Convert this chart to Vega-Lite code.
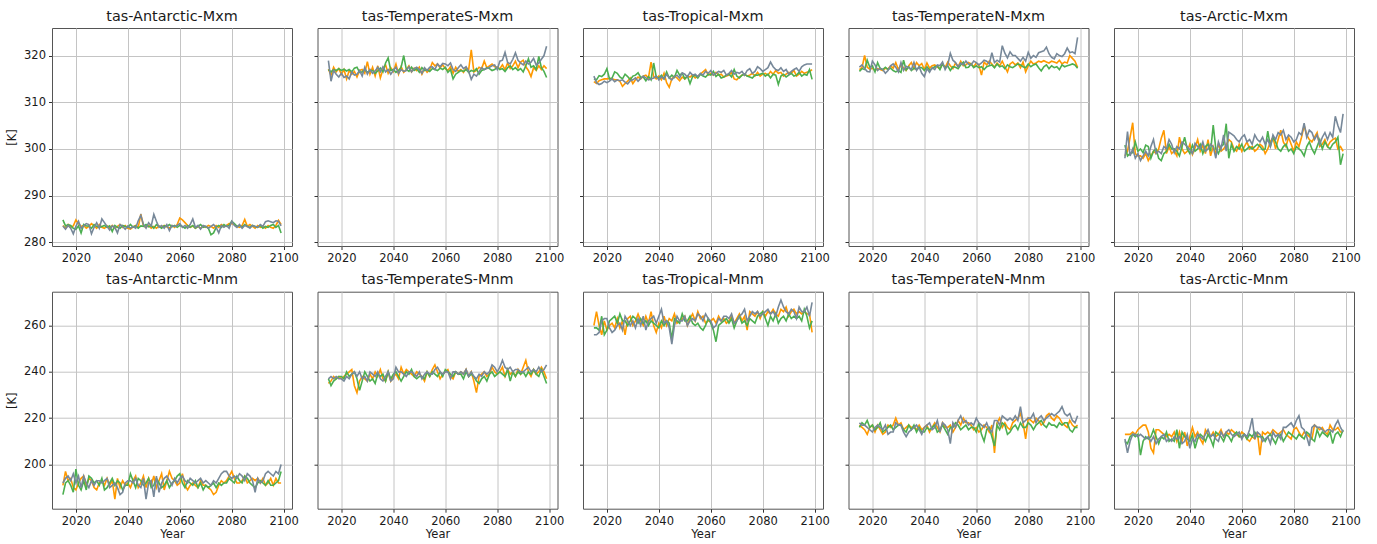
{
"$schema":"https://vega.github.io/schema/vega-lite/v6.json",
"background":"white",
"padding":{"left":6,"top":8,"right":5,"bottom":5},
"bounds":"flush",
"columns":5,
"spacing":{"row":45.7,"column":25.5},
"resolve":{"scale":{"color":"independent"}},
"config":{
 "font":"DejaVu Sans",
 "view":{"stroke":"#555","strokeWidth":1},
 "axis":{"domain":false,"gridColor":"#c4c4c4","gridWidth":1,"tickColor":"#333","tickSize":3.5,"labelFontSize":11.5,"labelColor":"#1a1a1a","labelPadding":3,"titleFontSize":11.5,"titleFontWeight":"normal","titleColor":"#1a1a1a"},
 "axisY":{"titlePadding":6},
 "axisX":{"titlePadding":2},
 "title":{"fontSize":14.4,"fontWeight":"normal","color":"#1a1a1a","offset":4,"anchor":"middle"}
},
"data":{"values":[
{"x":2015,"ao":283.6,"ag":284.8,"as":283.5,"bo":317.1,"bg":317.0,"bs":318.9,"co":314.4,"cg":315.0,"cs":315.6,"do":317.0,"dg":316.6,"ds":317.5,"eo":298.5,"eg":300.8,"es":298.0,"fo":191,"fg":187,"fs":192,"go":235,"gg":237,"gs":237,"ho":260,"hg":259,"hs":256,"io":217,"ig":216,"is":218,"jo":213,"jg":210,"js":211},
{"x":2016,"ao":283.0,"ag":283.5,"as":282.8,"bo":315.8,"bg":316.5,"bs":314.5,"co":314.0,"cg":314.8,"cs":314.2,"do":317.4,"dg":317.2,"ds":318.0,"eo":299.5,"eg":298.5,"es":303.7,"fo":197,"fg":192,"fs":194,"go":236,"gg":234,"gs":238,"ho":266,"hg":259,"hs":256,"io":216,"ig":218,"is":217,"jo":213,"jg":209,"js":205},
{"x":2017,"ao":283.8,"ag":283.8,"as":283.6,"bo":317.5,"bg":317.0,"bs":316.8,"co":314.6,"cg":315.7,"cs":313.8,"do":320.0,"dg":317.0,"ds":317.2,"eo":302.5,"eg":299.0,"es":298.5,"fo":193,"fg":193,"fs":195,"go":238,"gg":236,"gs":237,"ho":260,"hg":258,"hs":257,"io":215,"ig":217,"is":217,"jo":213,"jg":212,"js":210},
{"x":2018,"ao":283.2,"ag":283.6,"as":283.0,"bo":316.5,"bg":316.8,"bs":316.0,"co":314.8,"cg":315.5,"cs":314.0,"do":317.5,"dg":319.0,"ds":316.6,"eo":305.6,"eg":299.2,"es":300.0,"fo":194,"fg":191,"fs":193,"go":237,"gg":237,"gs":238,"ho":256,"hg":264,"hs":262,"io":213,"ig":219,"is":216,"jo":214,"jg":213,"js":213},
{"x":2019,"ao":283.5,"ag":283.0,"as":281.8,"bo":317.2,"bg":317.2,"bs":315.4,"co":315.0,"cg":316.0,"cs":314.5,"do":317.1,"dg":317.5,"ds":316.5,"eo":299.0,"eg":301.5,"es":298.0,"fo":190,"fg":188,"fs":196,"go":238,"gg":238,"gs":237,"ho":262,"hg":256,"hs":263,"io":216,"ig":216,"is":215,"jo":213,"jg":212,"js":213},
{"x":2020,"ao":284.8,"ag":282.8,"as":283.4,"bo":316.0,"bg":316.8,"bs":316.2,"co":315.0,"cg":317.2,"cs":314.2,"do":317.3,"dg":317.8,"ds":318.8,"eo":298.5,"eg":299.5,"es":299.0,"fo":189,"fg":198,"fs":192,"go":237,"gg":238,"gs":237,"ho":258,"hg":258,"hs":263,"io":217,"ig":217,"is":214,"jo":215,"jg":213,"js":212},
{"x":2021,"ao":284.0,"ag":283.5,"as":284.5,"bo":317.0,"bg":317.1,"bs":315.3,"co":315.1,"cg":315.0,"cs":314.5,"do":316.8,"dg":316.5,"ds":318.0,"eo":298.5,"eg":300.0,"es":297.5,"fo":192,"fg":191,"fs":195,"go":238,"gg":237,"gs":236,"ho":260,"hg":262,"hs":259,"io":214,"ig":215,"is":216,"jo":216,"jg":204,"js":213},
{"x":2022,"ao":283.4,"ag":282.0,"as":283.0,"bo":315.0,"bg":316.7,"bs":315.6,"co":315.0,"cg":315.2,"cs":315.0,"do":317.2,"dg":318.5,"ds":316.8,"eo":298.0,"eg":299.2,"es":298.5,"fo":194,"fg":189,"fs":190,"go":239,"gg":240,"gs":238,"ho":261,"hg":263,"hs":257,"io":217,"ig":216,"is":217,"jo":217,"jg":210,"js":212},
{"x":2023,"ao":283.6,"ag":283.8,"as":283.5,"bo":316.8,"bg":317.0,"bs":315.0,"co":314.8,"cg":316.5,"cs":314.4,"do":317.0,"dg":317.2,"ds":317.3,"eo":299.0,"eg":300.8,"es":299.5,"fo":195,"fg":193,"fs":195,"go":240,"gg":238,"gs":237,"ho":259,"hg":264,"hs":258,"io":215,"ig":218,"is":216,"jo":217,"jg":212,"js":211},
{"x":2024,"ao":283.0,"ag":283.5,"as":284.0,"bo":316.0,"bg":316.5,"bs":316.5,"co":314.8,"cg":316.2,"cs":314.8,"do":316.8,"dg":317.0,"ds":317.0,"eo":297.5,"eg":300.5,"es":298.5,"fo":191,"fg":189,"fs":192,"go":241,"gg":239,"gs":239,"ho":263,"hg":261,"hs":260,"io":213,"ig":214,"is":215,"jo":214,"jg":211,"js":212},
{"x":2025,"ao":283.4,"ag":283.5,"as":283.8,"bo":316.6,"bg":317.3,"bs":315.8,"co":314.5,"cg":315.4,"cs":314.6,"do":317.3,"dg":317.5,"ds":316.2,"eo":298.5,"eg":298.0,"es":300.5,"fo":194,"fg":195,"fs":190,"go":234,"gg":240,"gs":240,"ho":259,"hg":265,"hs":261,"io":214,"ig":215,"is":217,"jo":207,"jg":212,"js":210},
{"x":2026,"ao":284.0,"ag":283.0,"as":281.8,"bo":315.4,"bg":317.5,"bs":316.0,"co":313.4,"cg":315.0,"cs":314.8,"do":317.1,"dg":317.0,"ds":316.8,"eo":299.5,"eg":299.5,"es":302.0,"fo":193,"fg":194,"fs":193,"go":231,"gg":237,"gs":238,"ho":262,"hg":262,"hs":258,"io":217,"ig":216,"is":213,"jo":205,"jg":215,"js":212},
{"x":2027,"ao":283.5,"ag":283.8,"as":283.2,"bo":316.8,"bg":316.4,"bs":316.8,"co":314.0,"cg":316.0,"cs":314.3,"do":317.8,"dg":317.3,"ds":317.8,"eo":299.0,"eg":300.0,"es":299.0,"fo":190,"fg":192,"fs":191,"go":236,"gg":232,"gs":240,"ho":256,"hg":262,"hs":264,"io":216,"ig":217,"is":214,"jo":215,"jg":212,"js":209},
{"x":2028,"ao":283.0,"ag":283.4,"as":284.2,"bo":317.0,"bg":316.5,"bs":315.6,"co":314.5,"cg":315.5,"cs":313.9,"do":317.3,"dg":316.8,"ds":318.2,"eo":300.0,"eg":298.0,"es":299.5,"fo":189,"fg":193,"fs":193,"go":238,"gg":236,"gs":237,"ho":263,"hg":260,"hs":262,"io":217,"ig":215,"is":214,"jo":215,"jg":209,"js":211},
{"x":2029,"ao":283.8,"ag":283.2,"as":283.0,"bo":316.2,"bg":317.0,"bs":317.5,"co":315.2,"cg":314.8,"cs":314.6,"do":318.5,"dg":316.5,"ds":317.5,"eo":302.3,"eg":297.5,"es":299.0,"fo":192,"fg":191,"fs":193,"go":237,"gg":240,"gs":238,"ho":264,"hg":262,"hs":260,"io":220,"ig":216,"is":218,"jo":214,"jg":212,"js":212},
{"x":2030,"ao":283.2,"ag":283.4,"as":285.0,"bo":318.7,"bg":316.4,"bs":316.0,"co":314.0,"cg":315.6,"cs":314.8,"do":317.0,"dg":316.8,"ds":316.5,"eo":304.0,"eg":299.0,"es":300.5,"fo":193,"fg":194,"fs":192,"go":236,"gg":238,"gs":236,"ho":260,"hg":264,"hs":262,"io":217,"ig":217,"is":217,"jo":213,"jg":211,"js":213},
{"x":2031,"ao":283.0,"ag":283.6,"as":284.2,"bo":316.0,"bg":316.8,"bs":317.0,"co":314.8,"cg":315.8,"cs":315.2,"do":318.0,"dg":316.4,"ds":318.5,"eo":299.0,"eg":299.5,"es":300.0,"fo":191,"fg":189,"fs":193,"go":239,"gg":236,"gs":240,"ho":262,"hg":263,"hs":259,"io":218,"ig":217,"is":217,"jo":212,"jg":214,"js":210},
{"x":2032,"ao":283.5,"ag":283.2,"as":283.4,"bo":317.5,"bg":316.8,"bs":316.2,"co":315.4,"cg":316.3,"cs":314.5,"do":317.4,"dg":319.0,"ds":316.8,"eo":300.5,"eg":301.0,"es":302.0,"fo":194,"fg":190,"fs":194,"go":237,"gg":237,"gs":239,"ho":265,"hg":261,"hs":263,"io":215,"ig":215,"is":214,"jo":213,"jg":210,"js":211},
{"x":2033,"ao":283.0,"ag":283.5,"as":282.6,"bo":315.6,"bg":316.2,"bs":316.7,"co":315.0,"cg":315.3,"cs":315.1,"do":316.8,"dg":316.9,"ds":317.7,"eo":299.0,"eg":300.0,"es":301.0,"fo":191,"fg":192,"fs":190,"go":240,"gg":235,"gs":238,"ho":262,"hg":263,"hs":260,"io":216,"ig":214,"is":212,"jo":212,"jg":211,"js":210},
{"x":2034,"ao":283.6,"ag":282.3,"as":283.5,"bo":317.8,"bg":316.7,"bs":317.5,"co":315.6,"cg":315.4,"cs":315.6,"do":317.8,"dg":317.6,"ds":317.4,"eo":299.6,"eg":300.0,"es":299.2,"fo":193,"fg":194,"fs":191,"go":238,"gg":239,"gs":240,"ho":260,"hg":261,"hs":264,"io":217,"ig":217,"is":214,"jo":214,"jg":210,"js":212},
{"x":2035,"ao":283.0,"ag":283.6,"as":283.2,"bo":315.2,"bg":317.3,"bs":316.5,"co":315.8,"cg":314.6,"cs":315.2,"do":318.5,"dg":316.8,"ds":317.0,"eo":298.5,"eg":299.5,"es":300.5,"fo":185,"fg":191,"fs":192,"go":241,"gg":238,"gs":237,"ho":264,"hg":262,"hs":258,"io":216,"ig":215,"is":215,"jo":210,"jg":215,"js":211},
{"x":2036,"ao":283.4,"ag":283.2,"as":282.0,"bo":317.0,"bg":316.5,"bs":317.6,"co":315.2,"cg":315.5,"cs":314.8,"do":317.2,"dg":317.3,"ds":318.5,"eo":302.5,"eg":298.5,"es":300.0,"fo":194,"fg":193,"fs":190,"go":237,"gg":239,"gs":236,"ho":261,"hg":260,"hs":262,"io":216,"ig":217,"is":216,"jo":214,"jg":207,"js":212},
{"x":2037,"ao":283.8,"ag":283.0,"as":283.8,"bo":318.0,"bg":318.4,"bs":316.5,"co":318.6,"cg":314.8,"cs":315.0,"do":318.5,"dg":317.0,"ds":316.8,"eo":300.0,"eg":300.5,"es":301.5,"fo":190,"fg":192,"fs":187,"go":236,"gg":236,"gs":238,"ho":266,"hg":262,"hs":263,"io":215,"ig":214,"is":217,"jo":210,"jg":214,"js":209},
{"x":2038,"ao":283.2,"ag":283.6,"as":283.4,"bo":316.2,"bg":319.5,"bs":317.0,"co":315.5,"cg":318.4,"cs":315.2,"do":317.8,"dg":317.5,"ds":317.6,"eo":299.0,"eg":302.5,"es":301.0,"fo":193,"fg":189,"fs":188,"go":240,"gg":240,"gs":240,"ho":260,"hg":261,"hs":264,"io":217,"ig":216,"is":215,"jo":214,"jg":212,"js":210},
{"x":2039,"ao":283.6,"ag":283.4,"as":282.8,"bo":317.4,"bg":316.8,"bs":316.0,"co":315.0,"cg":315.4,"cs":315.6,"do":318.3,"dg":317.4,"ds":316.2,"eo":299.5,"eg":300.0,"es":300.5,"fo":191,"fg":191,"fs":192,"go":236,"gg":237,"gs":236,"ho":257,"hg":260,"hs":261,"io":215,"ig":214,"is":213,"jo":208,"jg":211,"js":213},
{"x":2040,"ao":283.0,"ag":283.2,"as":283.5,"bo":316.6,"bg":317.0,"bs":316.8,"co":315.6,"cg":315.2,"cs":314.8,"do":317.0,"dg":316.8,"ds":315.5,"eo":301.0,"eg":299.0,"es":299.8,"fo":192,"fg":191,"fs":193,"go":238,"gg":239,"gs":237,"ho":261,"hg":259,"hs":264,"io":216,"ig":214,"is":216,"jo":212,"jg":210,"js":207},
{"x":2041,"ao":282.8,"ag":283.8,"as":283.0,"bo":318.2,"bg":316.4,"bs":317.5,"co":314.8,"cg":315.8,"cs":315.5,"do":318.4,"dg":317.6,"ds":317.2,"eo":298.8,"eg":300.8,"es":299.0,"fo":190,"fg":196,"fs":193,"go":239,"gg":240,"gs":242,"ho":259,"hg":262,"hs":267,"io":217,"ig":216,"is":217,"jo":216,"jg":213,"js":211},
{"x":2042,"ao":283.3,"ag":283.2,"as":283.4,"bo":316.0,"bg":316.8,"bs":316.2,"co":316.2,"cg":315.0,"cs":315.0,"do":317.3,"dg":316.9,"ds":316.4,"eo":300.2,"eg":299.5,"es":301.2,"fo":193,"fg":193,"fs":192,"go":237,"gg":238,"gs":240,"ho":264,"hg":260,"hs":261,"io":214,"ig":215,"is":218,"jo":212,"jg":207,"js":210},
{"x":2043,"ao":283.6,"ag":283.5,"as":283.0,"bo":317.6,"bg":317.5,"bs":317.0,"co":314.2,"cg":316.5,"cs":316.0,"do":317.8,"dg":317.2,"ds":317.4,"eo":302.0,"eg":300.0,"es":300.5,"fo":195,"fg":190,"fs":194,"go":242,"gg":236,"gs":240,"ho":260,"hg":262,"hs":262,"io":216,"ig":216,"is":215,"jo":214,"jg":211,"js":213},
{"x":2044,"ao":283.2,"ag":283.0,"as":284.6,"bo":316.4,"bg":320.0,"bs":316.6,"co":313.2,"cg":315.2,"cs":315.2,"do":318.0,"dg":317.6,"ds":317.0,"eo":299.5,"eg":301.0,"es":300.0,"fo":190,"fg":194,"fs":191,"go":239,"gg":238,"gs":239,"ho":263,"hg":261,"hs":259,"io":218,"ig":217,"is":216,"jo":211,"jg":213,"js":212},
{"x":2045,"ao":286.0,"ag":283.5,"as":285.8,"bo":317.0,"bg":317.0,"bs":316.8,"co":315.0,"cg":315.8,"cs":314.8,"do":317.5,"dg":317.8,"ds":318.0,"eo":300.8,"eg":299.0,"es":301.5,"fo":192,"fg":193,"fs":190,"go":241,"gg":240,"gs":238,"ho":262,"hg":254,"hs":252,"io":216,"ig":214,"is":219,"jo":209,"jg":212,"js":211},
{"x":2046,"ao":283.5,"ag":283.4,"as":283.8,"bo":317.8,"bg":316.6,"bs":317.6,"co":315.6,"cg":315.3,"cs":315.5,"do":317.2,"dg":317.0,"ds":317.8,"eo":299.0,"eg":300.5,"es":299.5,"fo":195,"fg":191,"fs":194,"go":240,"gg":239,"gs":240,"ho":265,"hg":263,"hs":260,"io":214,"ig":215,"is":214,"jo":215,"jg":210,"js":213},
{"x":2047,"ao":283.2,"ag":283.8,"as":283.0,"bo":316.5,"bg":317.5,"bs":316.5,"co":315.2,"cg":316.8,"cs":315.8,"do":318.2,"dg":318.2,"ds":318.6,"eo":302.0,"eg":301.0,"es":300.0,"fo":190,"fg":192,"fs":185,"go":239,"gg":241,"gs":240,"ho":261,"hg":262,"hs":264,"io":218,"ig":217,"is":218,"jo":213,"jg":213,"js":215},
{"x":2048,"ao":283.6,"ag":283.3,"as":284.2,"bo":317.3,"bg":316.8,"bs":317.2,"co":314.6,"cg":315.8,"cs":315.2,"do":317.4,"dg":317.4,"ds":317.0,"eo":298.5,"eg":299.5,"es":301.0,"fo":194,"fg":194,"fs":192,"go":238,"gg":238,"gs":239,"ho":262,"hg":261,"hs":262,"io":216,"ig":215,"is":217,"jo":212,"jg":211,"js":212},
{"x":2049,"ao":283.0,"ag":283.6,"as":283.5,"bo":316.8,"bg":317.2,"bs":317.5,"co":315.4,"cg":316.2,"cs":316.3,"do":318.6,"dg":317.8,"ds":318.0,"eo":300.5,"eg":305.1,"es":300.5,"fo":191,"fg":190,"fs":193,"go":240,"gg":237,"gs":238,"ho":263,"hg":265,"hs":262,"io":216,"ig":213,"is":215,"jo":214,"jg":208,"js":213},
{"x":2050,"ao":283.4,"ag":283.0,"as":286.0,"bo":317.5,"bg":316.4,"bs":317.0,"co":315.0,"cg":315.0,"cs":316.0,"do":317.8,"dg":316.8,"ds":320.5,"eo":299.0,"eg":300.0,"es":298.0,"fo":195,"fg":191,"fs":186,"go":239,"gg":238,"gs":240,"ho":264,"hg":262,"hs":264,"io":217,"ig":216,"is":209,"jo":212,"jg":214,"js":211},
{"x":2051,"ao":283.0,"ag":283.8,"as":284.5,"bo":316.0,"bg":317.4,"bs":316.2,"co":315.6,"cg":315.6,"cs":315.4,"do":317.2,"dg":317.6,"ds":319.0,"eo":301.0,"eg":299.0,"es":301.5,"fo":190,"fg":194,"fs":195,"go":238,"gg":238,"gs":237,"ho":260,"hg":262,"hs":260,"io":214,"ig":216,"is":218,"jo":213,"jg":213,"js":210},
{"x":2052,"ao":283.5,"ag":283.4,"as":283.2,"bo":317.2,"bg":316.8,"bs":317.4,"co":315.4,"cg":314.0,"cs":316.4,"do":318.4,"dg":317.5,"ds":318.5,"eo":299.5,"eg":300.5,"es":300.0,"fo":193,"fg":192,"fs":188,"go":236,"gg":237,"gs":239,"ho":263,"hg":264,"hs":262,"io":216,"ig":218,"is":216,"jo":215,"jg":212,"js":214},
{"x":2053,"ao":283.2,"ag":283.0,"as":283.6,"bo":316.4,"bg":317.0,"bs":316.8,"co":315.8,"cg":315.5,"cs":315.8,"do":317.6,"dg":317.2,"ds":317.6,"eo":300.0,"eg":301.0,"es":303.0,"fo":196,"fg":190,"fs":192,"go":240,"gg":240,"gs":240,"ho":265,"hg":261,"hs":263,"io":219,"ig":217,"is":219,"jo":212,"jg":210,"js":212},
{"x":2054,"ao":283.6,"ag":283.5,"as":283.0,"bo":317.0,"bg":316.6,"bs":317.5,"co":315.2,"cg":315.8,"cs":316.0,"do":318.8,"dg":318.0,"ds":318.4,"eo":300.8,"eg":305.4,"es":299.5,"fo":189,"fg":191,"fs":194,"go":238,"gg":238,"gs":239,"ho":262,"hg":260,"hs":262,"io":217,"ig":215,"is":221,"jo":214,"jg":213,"js":214},
{"x":2055,"ao":283.3,"ag":283.4,"as":283.8,"bo":318.5,"bg":317.2,"bs":317.6,"co":315.6,"cg":315.2,"cs":315.5,"do":317.8,"dg":318.6,"ds":318.0,"eo":302.0,"eg":298.0,"es":303.6,"fo":193,"fg":193,"fs":195,"go":241,"gg":240,"gs":239,"ho":266,"hg":261,"hs":265,"io":220,"ig":216,"is":218,"jo":213,"jg":212,"js":215},
{"x":2056,"ao":283.0,"ag":283.8,"as":282.5,"bo":317.8,"bg":317.0,"bs":317.0,"co":316.0,"cg":316.0,"cs":316.2,"do":318.0,"dg":317.4,"ds":318.8,"eo":301.5,"eg":301.0,"es":303.2,"fo":197,"fg":190,"fs":193,"go":243,"gg":239,"gs":241,"ho":263,"hg":259,"hs":264,"io":218,"ig":217,"is":219,"jo":215,"jg":210,"js":213},
{"x":2057,"ao":283.6,"ag":283.3,"as":283.6,"bo":318.2,"bg":316.8,"bs":318.2,"co":316.5,"cg":315.6,"cs":315.8,"do":318.5,"dg":317.5,"ds":318.2,"eo":300.0,"eg":299.5,"es":302.8,"fo":194,"fg":192,"fs":191,"go":240,"gg":238,"gs":242,"ho":264,"hg":258,"hs":262,"io":218,"ig":215,"is":217,"jo":214,"jg":213,"js":212},
{"x":2058,"ao":283.2,"ag":283.6,"as":283.4,"bo":317.4,"bg":317.3,"bs":317.6,"co":317.0,"cg":315.4,"cs":316.6,"do":318.2,"dg":318.2,"ds":318.0,"eo":299.5,"eg":300.5,"es":302.0,"fo":193,"fg":193,"fs":194,"go":237,"gg":240,"gs":240,"ho":261,"hg":260,"hs":265,"io":217,"ig":216,"is":218,"jo":213,"jg":214,"js":213},
{"x":2059,"ao":283.8,"ag":283.2,"as":283.6,"bo":318.0,"bg":317.0,"bs":318.3,"co":315.8,"cg":316.0,"cs":316.2,"do":317.6,"dg":317.4,"ds":318.8,"eo":301.0,"eg":300.0,"es":301.5,"fo":191,"fg":195,"fs":192,"go":239,"gg":238,"gs":239,"ho":262,"hg":263,"hs":263,"io":215,"ig":216,"is":217,"jo":212,"jg":212,"js":214},
{"x":2060,"ao":285.2,"ag":283.6,"as":284.0,"bo":317.2,"bg":317.5,"bs":318.2,"co":316.2,"cg":315.8,"cs":316.8,"do":318.4,"dg":317.8,"ds":318.5,"eo":299.5,"eg":301.0,"es":302.5,"fo":192,"fg":196,"fs":194,"go":240,"gg":241,"gs":240,"ho":262,"hg":261,"hs":262,"io":216,"ig":214,"is":220,"jo":214,"jg":212,"js":211},
{"x":2061,"ao":284.8,"ag":283.4,"as":283.2,"bo":316.8,"bg":316.4,"bs":317.8,"co":315.8,"cg":316.6,"cs":315.8,"do":317.9,"dg":317.4,"ds":318.0,"eo":300.5,"eg":299.5,"es":303.0,"fo":196,"fg":192,"fs":195,"go":241,"gg":240,"gs":240,"ho":263,"hg":258,"hs":259,"io":214,"ig":218,"is":218,"jo":213,"jg":213,"js":213},
{"x":2062,"ao":284.2,"ag":283.0,"as":283.6,"bo":317.6,"bg":317.0,"bs":318.4,"co":316.4,"cg":315.5,"cs":316.2,"do":315.8,"dg":317.6,"ds":318.4,"eo":301.5,"eg":300.0,"es":301.5,"fo":191,"fg":190,"fs":193,"go":238,"gg":239,"gs":237,"ho":261,"hg":253,"hs":260,"io":215,"ig":213,"is":217,"jo":211,"jg":211,"js":212},
{"x":2063,"ao":283.6,"ag":283.6,"as":283.0,"bo":316.2,"bg":315.0,"bs":317.0,"co":315.8,"cg":316.0,"cs":316.6,"do":318.6,"dg":317.0,"ds":319.0,"eo":300.0,"eg":300.5,"es":302.0,"fo":189,"fg":193,"fs":192,"go":237,"gg":238,"gs":240,"ho":264,"hg":260,"hs":263,"io":217,"ig":210,"is":216,"jo":210,"jg":213,"js":215},
{"x":2064,"ao":283.2,"ag":283.2,"as":283.8,"bo":317.5,"bg":316.0,"bs":316.6,"co":316.0,"cg":315.2,"cs":316.4,"do":318.0,"dg":317.6,"ds":318.8,"eo":300.5,"eg":300.0,"es":301.0,"fo":191,"fg":192,"fs":194,"go":240,"gg":240,"gs":240,"ho":262,"hg":261,"hs":262,"io":216,"ig":215,"is":218,"jo":212,"jg":212,"js":220},
{"x":2065,"ao":283.5,"ag":283.6,"as":285.0,"bo":316.6,"bg":316.4,"bs":317.4,"co":315.4,"cg":315.4,"cs":316.8,"do":318.8,"dg":317.8,"ds":318.2,"eo":299.5,"eg":300.5,"es":303.0,"fo":192,"fg":191,"fs":193,"go":239,"gg":239,"gs":239,"ho":263,"hg":262,"hs":264,"io":214,"ig":216,"is":215,"jo":211,"jg":214,"js":211},
{"x":2066,"ao":283.0,"ag":283.0,"as":283.2,"bo":317.0,"bg":316.8,"bs":318.0,"co":315.6,"cg":315.8,"cs":315.8,"do":318.2,"dg":318.0,"ds":320.6,"eo":300.0,"eg":301.0,"es":302.0,"fo":191,"fg":193,"fs":192,"go":240,"gg":239,"gs":240,"ho":261,"hg":263,"hs":264,"io":217,"ig":212,"is":214,"jo":214,"jg":212,"js":214},
{"x":2067,"ao":283.4,"ag":283.4,"as":283.6,"bo":316.4,"bg":316.6,"bs":317.2,"co":315.8,"cg":316.0,"cs":316.2,"do":317.5,"dg":317.4,"ds":318.5,"eo":301.0,"eg":300.5,"es":301.5,"fo":190,"fg":190,"fs":193,"go":239,"gg":237,"gs":239,"ho":262,"hg":261,"hs":263,"io":205,"ig":208,"is":219,"jo":204,"jg":212,"js":213},
{"x":2068,"ao":283.0,"ag":283.8,"as":282.8,"bo":317.3,"bg":317.0,"bs":317.6,"co":316.4,"cg":315.4,"cs":316.8,"do":318.4,"dg":318.2,"ds":319.0,"eo":300.5,"eg":299.8,"es":302.5,"fo":193,"fg":192,"fs":194,"go":241,"gg":240,"gs":241,"ho":264,"hg":263,"hs":265,"io":218,"ig":217,"is":219,"jo":214,"jg":212,"js":210},
{"x":2069,"ao":283.5,"ag":283.2,"as":283.6,"bo":317.0,"bg":316.4,"bs":316.6,"co":315.0,"cg":317.0,"cs":316.0,"do":317.8,"dg":317.6,"ds":318.6,"eo":299.0,"eg":300.0,"es":301.0,"fo":191,"fg":189,"fs":192,"go":238,"gg":238,"gs":238,"ho":261,"hg":259,"hs":261,"io":220,"ig":215,"is":217,"jo":213,"jg":210,"js":211},
{"x":2070,"ao":283.2,"ag":283.4,"as":283.4,"bo":321.2,"bg":316.8,"bs":314.9,"co":314.8,"cg":315.6,"cs":316.4,"do":318.8,"dg":317.8,"ds":322.1,"eo":300.0,"eg":303.8,"es":302.0,"fo":191,"fg":191,"fs":193,"go":240,"gg":239,"gs":240,"ho":263,"hg":262,"hs":262,"io":216,"ig":218,"is":221,"jo":214,"jg":212,"js":212},
{"x":2071,"ao":283.6,"ag":283.0,"as":283.0,"bo":316.5,"bg":316.6,"bs":316.0,"co":315.4,"cg":315.2,"cs":316.2,"do":317.6,"dg":317.2,"ds":320.5,"eo":301.5,"eg":300.5,"es":300.5,"fo":190,"fg":190,"fs":192,"go":236,"gg":238,"gs":238,"ho":265,"hg":264,"hs":264,"io":218,"ig":217,"is":220,"jo":213,"jg":213,"js":209},
{"x":2072,"ao":283.4,"ag":281.6,"as":283.4,"bo":316.8,"bg":317.2,"bs":315.6,"co":315.8,"cg":315.8,"cs":316.6,"do":316.5,"dg":318.0,"ds":319.5,"eo":302.5,"eg":302.5,"es":303.0,"fo":189,"fg":191,"fs":191,"go":231,"gg":236,"gs":237,"ho":262,"hg":261,"hs":265,"io":216,"ig":213,"is":219,"jo":215,"jg":211,"js":214},
{"x":2073,"ao":283.0,"ag":282.0,"as":283.8,"bo":317.5,"bg":316.0,"bs":316.5,"co":316.0,"cg":316.0,"cs":315.8,"do":318.2,"dg":317.6,"ds":320.8,"eo":300.0,"eg":301.5,"es":302.0,"fo":187,"fg":192,"fs":193,"go":238,"gg":235,"gs":239,"ho":264,"hg":262,"hs":267,"io":215,"ig":214,"is":220,"jo":214,"jg":209,"js":212},
{"x":2074,"ao":283.6,"ag":283.2,"as":283.2,"bo":317.2,"bg":316.8,"bs":317.4,"co":315.6,"cg":315.6,"cs":316.8,"do":318.6,"dg":317.4,"ds":320.0,"eo":302.0,"eg":300.0,"es":303.5,"fo":188,"fg":190,"fs":192,"go":239,"gg":237,"gs":238,"ho":258,"hg":260,"hs":262,"io":218,"ig":216,"is":219,"jo":213,"jg":212,"js":213},
{"x":2075,"ao":283.2,"ag":283.6,"as":282.0,"bo":318.8,"bg":317.0,"bs":317.0,"co":315.8,"cg":315.4,"cs":317.2,"do":318.0,"dg":317.8,"ds":320.0,"eo":304.0,"eg":299.5,"es":303.0,"fo":191,"fg":192,"fs":194,"go":240,"gg":238,"gs":240,"ho":266,"hg":263,"hs":264,"io":219,"ig":217,"is":221,"jo":214,"jg":213,"js":211},
{"x":2076,"ao":283.8,"ag":283.2,"as":283.6,"bo":317.4,"bg":317.4,"bs":317.2,"co":316.2,"cg":315.2,"cs":316.2,"do":318.4,"dg":318.2,"ds":319.4,"eo":301.5,"eg":300.5,"es":304.0,"fo":193,"fg":191,"fs":196,"go":238,"gg":236,"gs":239,"ho":265,"hg":262,"hs":266,"io":220,"ig":215,"is":219,"jo":215,"jg":210,"js":216},
{"x":2077,"ao":283.4,"ag":283.8,"as":283.2,"bo":317.8,"bg":317.2,"bs":317.5,"co":315.6,"cg":315.8,"cs":316.6,"do":317.4,"dg":318.0,"ds":318.8,"eo":300.5,"eg":301.0,"es":302.0,"fo":192,"fg":192,"fs":197,"go":239,"gg":239,"gs":240,"ho":264,"hg":261,"hs":265,"io":222,"ig":218,"is":225,"jo":213,"jg":212,"js":216},
{"x":2078,"ao":283.6,"ag":283.4,"as":283.6,"bo":318.2,"bg":316.8,"bs":317.8,"co":316.4,"cg":315.8,"cs":317.6,"do":318.6,"dg":317.6,"ds":319.6,"eo":302.5,"eg":299.5,"es":303.0,"fo":193,"fg":192,"fs":197,"go":242,"gg":240,"gs":243,"ho":266,"hg":264,"hs":266,"io":218,"ig":216,"is":218,"jo":212,"jg":214,"js":217},
{"x":2079,"ao":284.0,"ag":283.6,"as":283.0,"bo":317.6,"bg":317.0,"bs":318.0,"co":315.6,"cg":316.0,"cs":317.2,"do":316.5,"dg":317.4,"ds":318.8,"eo":301.0,"eg":300.0,"es":302.5,"fo":195,"fg":194,"fs":195,"go":240,"gg":238,"gs":242,"ho":263,"hg":265,"hs":264,"io":211,"ig":216,"is":219,"jo":211,"jg":213,"js":218},
{"x":2080,"ao":284.0,"ag":284.5,"as":284.5,"bo":317.5,"bg":317.5,"bs":317.0,"co":316.0,"cg":316.2,"cs":316.6,"do":317.8,"dg":318.2,"ds":320.7,"eo":299.5,"eg":299.0,"es":301.5,"fo":197,"fg":193,"fs":194,"go":239,"gg":239,"gs":240,"ho":266,"hg":266,"hs":265,"io":220,"ig":218,"is":220,"jo":215,"jg":212,"js":216},
{"x":2081,"ao":283.8,"ag":284.0,"as":283.6,"bo":317.2,"bg":317.0,"bs":318.8,"co":316.2,"cg":315.6,"cs":317.0,"do":318.8,"dg":317.6,"ds":319.4,"eo":301.5,"eg":300.5,"es":302.0,"fo":194,"fg":192,"fs":195,"go":240,"gg":240,"gs":242,"ho":264,"hg":263,"hs":266,"io":219,"ig":217,"is":220,"jo":216,"jg":211,"js":219},
{"x":2082,"ao":283.4,"ag":283.4,"as":283.2,"bo":318.0,"bg":317.2,"bs":319.0,"co":315.8,"cg":316.0,"cs":317.4,"do":318.2,"dg":318.0,"ds":320.0,"eo":300.5,"eg":300.0,"es":303.5,"fo":192,"fg":195,"fs":194,"go":242,"gg":239,"gs":245,"ho":266,"hg":260,"hs":267,"io":218,"ig":215,"is":222,"jo":214,"jg":213,"js":221},
{"x":2083,"ao":283.2,"ag":283.6,"as":283.8,"bo":317.0,"bg":316.6,"bs":320.7,"co":316.6,"cg":315.2,"cs":318.6,"do":318.4,"dg":318.2,"ds":319.6,"eo":302.5,"eg":299.5,"es":303.0,"fo":192,"fg":193,"fs":196,"go":238,"gg":238,"gs":242,"ho":265,"hg":264,"hs":265,"io":220,"ig":217,"is":218,"jo":212,"jg":212,"js":216},
{"x":2084,"ao":283.6,"ag":283.2,"as":283.0,"bo":318.4,"bg":317.4,"bs":318.5,"co":316.0,"cg":316.0,"cs":317.6,"do":318.8,"dg":317.4,"ds":320.6,"eo":305.0,"eg":298.5,"es":305.5,"fo":193,"fg":192,"fs":195,"go":241,"gg":241,"gs":241,"ho":267,"hg":262,"hs":266,"io":219,"ig":218,"is":220,"jo":214,"jg":211,"js":215},
{"x":2085,"ao":284.9,"ag":283.8,"as":283.6,"bo":317.2,"bg":317.8,"bs":318.2,"co":316.8,"cg":315.8,"cs":317.0,"do":318.6,"dg":316.7,"ds":320.8,"eo":303.0,"eg":300.5,"es":302.5,"fo":195,"fg":195,"fs":193,"go":239,"gg":236,"gs":242,"ho":265,"hg":265,"hs":264,"io":217,"ig":219,"is":221,"jo":213,"jg":214,"js":212},
{"x":2086,"ao":283.4,"ag":283.4,"as":283.4,"bo":317.8,"bg":317.0,"bs":319.2,"co":316.2,"cg":313.8,"cs":316.8,"do":318.9,"dg":317.6,"ds":321.0,"eo":302.0,"eg":301.5,"es":304.0,"fo":192,"fg":194,"fs":196,"go":240,"gg":240,"gs":240,"ho":264,"hg":261,"hs":268,"io":218,"ig":217,"is":219,"jo":212,"jg":213,"js":208},
{"x":2087,"ao":283.8,"ag":283.2,"as":283.0,"bo":318.8,"bg":317.4,"bs":320.6,"co":316.4,"cg":315.6,"cs":317.4,"do":318.6,"dg":318.0,"ds":321.8,"eo":301.5,"eg":300.0,"es":303.5,"fo":193,"fg":192,"fs":195,"go":238,"gg":238,"gs":241,"ho":267,"hg":263,"hs":271,"io":221,"ig":216,"is":220,"jo":211,"jg":211,"js":216},
{"x":2088,"ao":283.4,"ag":283.6,"as":283.6,"bo":317.4,"bg":316.8,"bs":319.0,"co":315.6,"cg":316.0,"cs":316.6,"do":318.4,"dg":317.2,"ds":320.4,"eo":302.5,"eg":299.0,"es":302.0,"fo":194,"fg":191,"fs":193,"go":241,"gg":240,"gs":241,"ho":266,"hg":264,"hs":268,"io":222,"ig":218,"is":221,"jo":217,"jg":210,"js":217},
{"x":2089,"ao":283.0,"ag":283.4,"as":283.4,"bo":318.6,"bg":317.2,"bs":318.4,"co":316.0,"cg":315.4,"cs":317.0,"do":318.8,"dg":317.8,"ds":319.6,"eo":303.5,"eg":300.5,"es":303.0,"fo":193,"fg":190,"fs":188,"go":239,"gg":239,"gs":240,"ho":268,"hg":262,"hs":266,"io":220,"ig":217,"is":222,"jo":216,"jg":215,"js":216},
{"x":2090,"ao":283.6,"ag":283.2,"as":283.2,"bo":319.0,"bg":316.5,"bs":318.0,"co":316.4,"cg":315.8,"cs":316.0,"do":318.6,"dg":317.4,"ds":319.3,"eo":300.5,"eg":302.0,"es":301.0,"fo":194,"fg":192,"fs":194,"go":242,"gg":240,"gs":240,"ho":264,"hg":265,"hs":265,"io":219,"ig":217,"is":221,"jo":215,"jg":212,"js":216},
{"x":2091,"ao":283.2,"ag":283.6,"as":283.8,"bo":317.6,"bg":317.8,"bs":318.8,"co":316.2,"cg":316.2,"cs":316.6,"do":318.4,"dg":317.6,"ds":320.4,"eo":301.0,"eg":300.0,"es":302.5,"fo":192,"fg":193,"fs":192,"go":245,"gg":238,"gs":241,"ho":266,"hg":263,"hs":267,"io":221,"ig":216,"is":222,"jo":216,"jg":214,"js":215},
{"x":2092,"ao":283.4,"ag":283.0,"as":283.4,"bo":316.8,"bg":319.3,"bs":318.2,"co":316.8,"cg":315.6,"cs":317.0,"do":319.0,"dg":317.0,"ds":320.0,"eo":302.0,"eg":301.5,"es":303.5,"fo":194,"fg":192,"fs":193,"go":240,"gg":240,"gs":242,"ho":267,"hg":264,"hs":266,"io":220,"ig":218,"is":223,"jo":214,"jg":213,"js":214},
{"x":2093,"ao":283.0,"ag":283.4,"as":284.4,"bo":315.5,"bg":317.5,"bs":318.6,"co":315.6,"cg":315.8,"cs":317.3,"do":318.2,"dg":318.0,"ds":319.8,"eo":300.5,"eg":300.5,"es":302.0,"fo":191,"fg":191,"fs":196,"go":238,"gg":239,"gs":240,"ho":265,"hg":263,"hs":263,"io":218,"ig":217,"is":225,"jo":213,"jg":212,"js":215},
{"x":2094,"ao":283.6,"ag":283.2,"as":284.6,"bo":317.4,"bg":317.8,"bs":319.4,"co":316.0,"cg":316.4,"cs":316.6,"do":318.6,"dg":317.6,"ds":320.4,"eo":301.5,"eg":300.0,"es":303.5,"fo":192,"fg":193,"fs":197,"go":241,"gg":241,"gs":241,"ho":266,"hg":264,"hs":268,"io":217,"ig":218,"is":222,"jo":217,"jg":214,"js":215},
{"x":2095,"ao":283.2,"ag":283.6,"as":284.4,"bo":316.8,"bg":317.0,"bs":318.0,"co":316.6,"cg":315.6,"cs":317.6,"do":318.4,"dg":317.8,"ds":321.6,"eo":302.0,"eg":301.0,"es":302.5,"fo":194,"fg":191,"fs":196,"go":239,"gg":239,"gs":240,"ho":265,"hg":262,"hs":266,"io":216,"ig":218,"is":221,"jo":215,"jg":209,"js":214},
{"x":2096,"ao":283.0,"ag":283.8,"as":284.2,"bo":317.8,"bg":319.8,"bs":318.4,"co":316.2,"cg":316.0,"cs":318.0,"do":320.0,"dg":318.0,"ds":320.6,"eo":302.3,"eg":301.5,"es":307.0,"fo":191,"fg":191,"fs":195,"go":240,"gg":238,"gs":242,"ho":266,"hg":267,"hs":266,"io":219,"ig":215,"is":222,"jo":215,"jg":213,"js":217},
{"x":2097,"ao":283.6,"ag":283.2,"as":284.6,"bo":317.0,"bg":317.4,"bs":319.2,"co":316.4,"cg":315.8,"cs":318.2,"do":319.4,"dg":318.2,"ds":320.8,"eo":300.0,"eg":302.5,"es":305.0,"fo":194,"fg":192,"fs":197,"go":242,"gg":241,"gs":240,"ho":265,"hg":264,"hs":268,"io":217,"ig":214,"is":219,"jo":216,"jg":214,"js":219},
{"x":2098,"ao":284.7,"ag":283.6,"as":284.5,"bo":317.8,"bg":316.6,"bs":320.0,"co":316.6,"cg":317.0,"cs":318.2,"do":318.8,"dg":318.0,"ds":320.4,"eo":300.5,"eg":296.6,"es":303.5,"fo":192,"fg":193,"fs":196,"go":240,"gg":238,"gs":241,"ho":265,"hg":259,"hs":264,"io":216,"ig":216,"is":218,"jo":214,"jg":212,"js":216},
{"x":2099,"ao":283.8,"ag":282.0,"as":283.5,"bo":317.2,"bg":315.3,"bs":322.0,"co":317.0,"cg":314.9,"cs":318.2,"do":317.5,"dg":317.3,"ds":323.9,"eo":299.5,"eg":299.0,"es":307.5,"fo":192,"fg":197,"fs":200,"go":237,"gg":235,"gs":243,"ho":257,"hg":262,"hs":270,"io":217,"ig":216,"is":221,"jo":214,"jg":215,"js":214}
]},
"concat":[
 {"width":240,"height":218,"title":"tas-Antarctic-Mxm","transform":[{"fold":["ao","ag","as"],"as":["k","v"]}],"mark":{"type":"line","strokeWidth":1.6},
  "encoding":{"x":{"field":"x","type":"quantitative","scale":{"domain":[2010.8,2103.2],"nice":false,"zero":false},"axis":{"values":[2020,2040,2060,2080,2100],"format":"d","title":null}},
   "y":{"field":"v","type":"quantitative","scale":{"domain":[279.2,325.9],"nice":false,"zero":false},"axis":{"values":[280,290,300,310,320],"title":"[K]"}},
   "color":{"field":"k","type":"nominal","scale":{"domain":["ao","ag","as"],"range":["#ff9900","#4caf50","#778899"]},"legend":null}}},
 {"width":240,"height":218,"title":"tas-TemperateS-Mxm","transform":[{"fold":["bo","bg","bs"],"as":["k","v"]}],"mark":{"type":"line","strokeWidth":1.6},
  "encoding":{"x":{"field":"x","type":"quantitative","scale":{"domain":[2010.8,2103.2],"nice":false,"zero":false},"axis":{"values":[2020,2040,2060,2080,2100],"format":"d","title":null}},
   "y":{"field":"v","type":"quantitative","scale":{"domain":[279.2,325.9],"nice":false,"zero":false},"axis":{"values":[280,290,300,310,320],"labels":false,"title":null}},
   "color":{"field":"k","type":"nominal","scale":{"domain":["bo","bg","bs"],"range":["#ff9900","#4caf50","#778899"]},"legend":null}}},
 {"width":240,"height":218,"title":"tas-Tropical-Mxm","transform":[{"fold":["co","cg","cs"],"as":["k","v"]}],"mark":{"type":"line","strokeWidth":1.6},
  "encoding":{"x":{"field":"x","type":"quantitative","scale":{"domain":[2010.8,2103.2],"nice":false,"zero":false},"axis":{"values":[2020,2040,2060,2080,2100],"format":"d","title":null}},
   "y":{"field":"v","type":"quantitative","scale":{"domain":[279.2,325.9],"nice":false,"zero":false},"axis":{"values":[280,290,300,310,320],"labels":false,"title":null}},
   "color":{"field":"k","type":"nominal","scale":{"domain":["co","cg","cs"],"range":["#ff9900","#4caf50","#778899"]},"legend":null}}},
 {"width":240,"height":218,"title":"tas-TemperateN-Mxm","transform":[{"fold":["do","dg","ds"],"as":["k","v"]}],"mark":{"type":"line","strokeWidth":1.6},
  "encoding":{"x":{"field":"x","type":"quantitative","scale":{"domain":[2010.8,2103.2],"nice":false,"zero":false},"axis":{"values":[2020,2040,2060,2080,2100],"format":"d","title":null}},
   "y":{"field":"v","type":"quantitative","scale":{"domain":[279.2,325.9],"nice":false,"zero":false},"axis":{"values":[280,290,300,310,320],"labels":false,"title":null}},
   "color":{"field":"k","type":"nominal","scale":{"domain":["do","dg","ds"],"range":["#ff9900","#4caf50","#778899"]},"legend":null}}},
 {"width":240,"height":218,"title":"tas-Arctic-Mxm","transform":[{"fold":["eo","eg","es"],"as":["k","v"]}],"mark":{"type":"line","strokeWidth":1.6},
  "encoding":{"x":{"field":"x","type":"quantitative","scale":{"domain":[2010.8,2103.2],"nice":false,"zero":false},"axis":{"values":[2020,2040,2060,2080,2100],"format":"d","title":null}},
   "y":{"field":"v","type":"quantitative","scale":{"domain":[279.2,325.9],"nice":false,"zero":false},"axis":{"values":[280,290,300,310,320],"labels":false,"title":null}},
   "color":{"field":"k","type":"nominal","scale":{"domain":["eo","eg","es"],"range":["#ff9900","#4caf50","#778899"]},"legend":null}}},
 {"width":240,"height":217,"title":"tas-Antarctic-Mnm","transform":[{"fold":["fo","fg","fs"],"as":["k","v"]}],"mark":{"type":"line","strokeWidth":1.6},
  "encoding":{"x":{"field":"x","type":"quantitative","scale":{"domain":[2010.8,2103.2],"nice":false,"zero":false},"axis":{"values":[2020,2040,2060,2080,2100],"format":"d","title":"Year"}},
   "y":{"field":"v","type":"quantitative","scale":{"domain":[180.9,274.6],"nice":false,"zero":false},"axis":{"values":[200,220,240,260],"title":"[K]"}},
   "color":{"field":"k","type":"nominal","scale":{"domain":["fo","fg","fs"],"range":["#ff9900","#4caf50","#778899"]},"legend":null}}},
 {"width":240,"height":217,"title":"tas-TemperateS-Mnm","transform":[{"fold":["go","gg","gs"],"as":["k","v"]}],"mark":{"type":"line","strokeWidth":1.6},
  "encoding":{"x":{"field":"x","type":"quantitative","scale":{"domain":[2010.8,2103.2],"nice":false,"zero":false},"axis":{"values":[2020,2040,2060,2080,2100],"format":"d","title":"Year"}},
   "y":{"field":"v","type":"quantitative","scale":{"domain":[180.9,274.6],"nice":false,"zero":false},"axis":{"values":[200,220,240,260],"labels":false,"title":null}},
   "color":{"field":"k","type":"nominal","scale":{"domain":["go","gg","gs"],"range":["#ff9900","#4caf50","#778899"]},"legend":null}}},
 {"width":240,"height":217,"title":"tas-Tropical-Mnm","transform":[{"fold":["ho","hg","hs"],"as":["k","v"]}],"mark":{"type":"line","strokeWidth":1.6},
  "encoding":{"x":{"field":"x","type":"quantitative","scale":{"domain":[2010.8,2103.2],"nice":false,"zero":false},"axis":{"values":[2020,2040,2060,2080,2100],"format":"d","title":"Year"}},
   "y":{"field":"v","type":"quantitative","scale":{"domain":[180.9,274.6],"nice":false,"zero":false},"axis":{"values":[200,220,240,260],"labels":false,"title":null}},
   "color":{"field":"k","type":"nominal","scale":{"domain":["ho","hg","hs"],"range":["#ff9900","#4caf50","#778899"]},"legend":null}}},
 {"width":240,"height":217,"title":"tas-TemperateN-Mnm","transform":[{"fold":["io","ig","is"],"as":["k","v"]}],"mark":{"type":"line","strokeWidth":1.6},
  "encoding":{"x":{"field":"x","type":"quantitative","scale":{"domain":[2010.8,2103.2],"nice":false,"zero":false},"axis":{"values":[2020,2040,2060,2080,2100],"format":"d","title":"Year"}},
   "y":{"field":"v","type":"quantitative","scale":{"domain":[180.9,274.6],"nice":false,"zero":false},"axis":{"values":[200,220,240,260],"labels":false,"title":null}},
   "color":{"field":"k","type":"nominal","scale":{"domain":["io","ig","is"],"range":["#ff9900","#4caf50","#778899"]},"legend":null}}},
 {"width":240,"height":217,"title":"tas-Arctic-Mnm","transform":[{"fold":["jo","jg","js"],"as":["k","v"]}],"mark":{"type":"line","strokeWidth":1.6},
  "encoding":{"x":{"field":"x","type":"quantitative","scale":{"domain":[2010.8,2103.2],"nice":false,"zero":false},"axis":{"values":[2020,2040,2060,2080,2100],"format":"d","title":"Year"}},
   "y":{"field":"v","type":"quantitative","scale":{"domain":[180.9,274.6],"nice":false,"zero":false},"axis":{"values":[200,220,240,260],"labels":false,"title":null}},
   "color":{"field":"k","type":"nominal","scale":{"domain":["jo","jg","js"],"range":["#ff9900","#4caf50","#778899"]},"legend":null}}}
]
}
